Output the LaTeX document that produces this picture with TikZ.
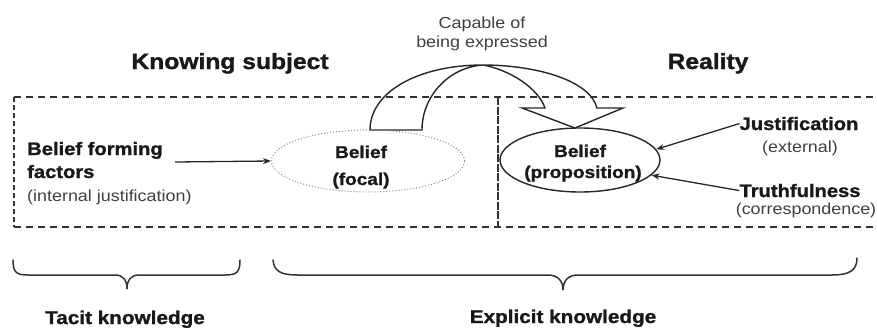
\documentclass[tikz,border=0pt]{standalone}
\usepackage{fontspec}
\setmainfont{Liberation Sans}[FakeStretch=1.12, BoldFeatures={FakeBold=1.3}]
\usetikzlibrary{arrows.meta,shapes.geometric}

\tikzset{
  heading/.style={font=\bfseries\fontsize{22}{26}\selectfont, text=black!90, inner sep=0pt, anchor=base},
  boldlbl/.style={font=\bfseries\fontsize{18}{22}\selectfont, text=black!90, inner sep=0pt, anchor=base},
  kindlbl/.style={font=\bfseries\fontsize{18.5}{22}\selectfont, text=black!90, inner sep=0pt, anchor=base},
  plainlbl/.style={font=\fontsize{16}{19}\selectfont, text=black!75, inner sep=0pt, anchor=base},
  ovaltxt/.style={font=\bfseries\fontsize{17}{20}\selectfont, text=black!90, inner sep=0pt, anchor=base},
  boxline/.style={line width=1.4pt, dash pattern=on 7pt off 5pt, black!80},
  pointer/.style={-{Stealth[length=8pt,width=6pt]}, line width=1.3pt, black!85},
  bracket/.style={line width=1.5pt, black!80, line cap=round},
  bigarrow/.style={line width=1.4pt, black!85, fill=white, line join=miter},
}

\begin{document}
\begin{tikzpicture}[x=1pt, y=-1pt]
  \useasboundingbox (0,0) rectangle (877,327);

  % curved block arrow: "capable of being expressed"
  \draw[bigarrow]
    (370,130) .. controls (370,92) and (418,65) .. (483,65)
    .. controls (535,65) and (590,80) .. (597,108)
    -- (623,108) -- (575,128) -- (522,108) -- (545,108)
    .. controls (538,88) and (510,70) .. (483,65)
    .. controls (450,67) and (422,95) .. (422,130) -- cycle;

  % dashed frame split into subject and reality
  \draw[boxline] (14,97) -- (877,97);
  \draw[boxline] (14,227) -- (877,227);
  \draw[boxline, dash pattern=on 5pt off 3pt] (14,97) -- (14,227);
  \draw[boxline, dash pattern=on 8pt off 1.5pt] (498,97) -- (498,227);

  % headings
  \node[heading] (ks) at (230,69) {Knowing subject};
  \node[heading] (re) at (708,69) {Reality};
  \node[plainlbl] (cap1) at (482,28) {Capable of};
  \node[plainlbl] (cap2) at (482,47) {being expressed};

  % belief forming factors
  \node[boldlbl, anchor=base west] (bf1) at (27,155) {Belief forming};
  \node[boldlbl, anchor=base west] (bf2) at (27,178) {factors};
  \node[plainlbl, anchor=base west] (bf3) at (27,201) {(internal justification)};

  % the two beliefs
  \node[draw=black!45, dotted, line width=1pt, ellipse,
        minimum width=193pt, minimum height=62pt] (focal) at (368,161) {};
  \node[ovaltxt] (f1) at (361,158) {Belief};
  \node[ovaltxt] (f2) at (361,185) {(focal)};

  \node[draw=black!85, ellipse, line width=1.4pt,
        minimum width=160pt, minimum height=64pt] (prop) at (580,160) {};
  \node[ovaltxt] (p1) at (580,157) {Belief};
  \node[ovaltxt] (p2) at (583,178) {(proposition)};

  % external criteria
  \node[boldlbl] (ju) at (799,130) {Justification};
  \node[plainlbl] (ex) at (800,152) {(external)};
  \node[boldlbl] (tr) at (800,197) {Truthfulness};
  \node[plainlbl] (co) at (806,214) {(correspondence)};

  % pointers
  \coordinate (bfa) at (175,162);
  \draw[pointer] (bfa) -- (focal.west);
  \draw[pointer] (ju.west) -- (prop.8);
  \draw[pointer] (tr.west) -- (prop.-12);

  % braces
  \draw[bracket] (13,260) .. controls (13,272) and (16,275) .. (28,275)
    -- (115,275) .. controls (123,275) and (127,280) .. (127,289)
    .. controls (127,280) and (131,275) .. (139,275)
    -- (225,275) .. controls (237,275) and (240,272) .. (240,260);
  \draw[bracket] (273,260) .. controls (274,272) and (282,275) .. (298,275)
    -- (548,275) .. controls (558,275) and (563,281) .. (563,290)
    .. controls (563,281) and (568,275) .. (578,275)
    -- (832,275) .. controls (850,275) and (857,270) .. (857,258);

  \node[kindlbl] (tk) at (125,324) {Tacit knowledge};
  \node[kindlbl] (ek) at (563,323) {Explicit knowledge};
\end{tikzpicture}
\end{document}
